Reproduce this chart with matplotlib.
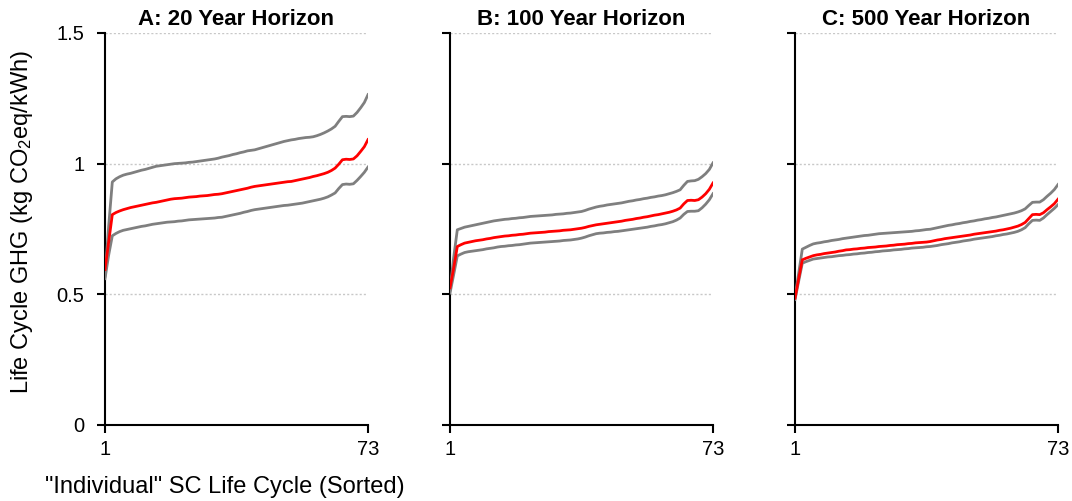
import numpy as np
import matplotlib
matplotlib.use("Agg")
import matplotlib.pyplot as plt

plt.rcParams['font.family'] = ['Liberation Sans', 'DejaVu Sans']
plt.rcParams['mathtext.default'] = 'regular'

# life cycle index (sorted), 73 individual SC life cycles
cycles = np.arange(1, 74)

titles = ["A: 20 Year Horizon", "B: 100 Year Horizon", "C: 500 Year Horizon"]

# panel A: 20 year horizon
a_upper = [0.57, 0.76, 0.93, 0.942, 0.950, 0.956, 0.960, 0.963, 0.967, 0.971,
           0.975, 0.978, 0.982, 0.986, 0.990, 0.992, 0.994, 0.996, 0.998, 1.000,
           1.001, 1.002, 1.003, 1.005, 1.006, 1.008, 1.010, 1.012, 1.014, 1.016,
           1.018, 1.021, 1.025, 1.028, 1.031, 1.035, 1.038, 1.042, 1.045, 1.049,
           1.051, 1.053, 1.057, 1.061, 1.065, 1.069, 1.073, 1.077, 1.081, 1.085,
           1.088, 1.091, 1.093, 1.096, 1.098, 1.100, 1.101, 1.103, 1.107, 1.112,
           1.118, 1.125, 1.133, 1.143, 1.162, 1.180, 1.181, 1.180, 1.182, 1.196,
           1.214, 1.234, 1.264]
a_mid = [0.595, 0.70, 0.805, 0.813, 0.819, 0.824, 0.828, 0.832, 0.835, 0.838,
         0.841, 0.844, 0.847, 0.850, 0.852, 0.855, 0.858, 0.861, 0.864, 0.866,
         0.867, 0.868, 0.870, 0.872, 0.873, 0.874, 0.876, 0.877, 0.878, 0.880,
         0.882, 0.883, 0.885, 0.888, 0.891, 0.894, 0.897, 0.900, 0.903, 0.906,
         0.910, 0.913, 0.915, 0.917, 0.919, 0.921, 0.923, 0.925, 0.927, 0.929,
         0.931, 0.932, 0.935, 0.938, 0.941, 0.944, 0.947, 0.951, 0.954, 0.958,
         0.962, 0.967, 0.974, 0.983, 0.998, 1.015, 1.017, 1.016, 1.018, 1.030,
         1.047, 1.065, 1.092]
a_lower = [0.560, 0.650, 0.724, 0.733, 0.740, 0.745, 0.748, 0.751, 0.754, 0.757,
           0.760, 0.762, 0.765, 0.768, 0.770, 0.772, 0.774, 0.776, 0.777, 0.778,
           0.780, 0.781, 0.783, 0.785, 0.786, 0.787, 0.788, 0.789, 0.790, 0.791,
           0.792, 0.794, 0.795, 0.798, 0.801, 0.804, 0.807, 0.810, 0.814, 0.817,
           0.821, 0.824, 0.826, 0.828, 0.830, 0.832, 0.834, 0.836, 0.838, 0.840,
           0.841, 0.843, 0.845, 0.847, 0.849, 0.852, 0.855, 0.858, 0.861, 0.864,
           0.868, 0.873, 0.880, 0.888, 0.905, 0.920, 0.922, 0.921, 0.923, 0.936,
           0.951, 0.967, 0.987]

# panel B: 100 year horizon
b_upper = [0.517, 0.640, 0.747, 0.752, 0.757, 0.760, 0.763, 0.766, 0.769, 0.772,
           0.775, 0.778, 0.781, 0.783, 0.785, 0.787, 0.788, 0.790, 0.791, 0.793,
           0.794, 0.796, 0.798, 0.799, 0.800, 0.801, 0.802, 0.803, 0.804, 0.806,
           0.807, 0.808, 0.810, 0.811, 0.813, 0.815, 0.817, 0.821, 0.826, 0.830,
           0.834, 0.837, 0.839, 0.842, 0.844, 0.846, 0.848, 0.850, 0.853, 0.856,
           0.858, 0.861, 0.863, 0.866, 0.868, 0.871, 0.873, 0.876, 0.878, 0.881,
           0.885, 0.889, 0.894, 0.900, 0.917, 0.932, 0.934, 0.935, 0.940, 0.950,
           0.962, 0.978, 1.003]
b_mid = [0.525, 0.600, 0.683, 0.690, 0.696, 0.699, 0.702, 0.705, 0.707, 0.709,
         0.712, 0.714, 0.717, 0.719, 0.721, 0.723, 0.724, 0.726, 0.727, 0.729,
         0.730, 0.732, 0.734, 0.735, 0.736, 0.737, 0.738, 0.740, 0.741, 0.742,
         0.743, 0.745, 0.746, 0.747, 0.749, 0.751, 0.753, 0.756, 0.760, 0.763,
         0.766, 0.768, 0.770, 0.772, 0.774, 0.776, 0.778, 0.780, 0.783, 0.785,
         0.787, 0.790, 0.792, 0.795, 0.797, 0.800, 0.803, 0.805, 0.808, 0.811,
         0.814, 0.818, 0.823, 0.830, 0.846, 0.859, 0.860, 0.859, 0.862, 0.872,
         0.885, 0.902, 0.926]
b_lower = [0.505, 0.575, 0.647, 0.654, 0.660, 0.663, 0.665, 0.667, 0.669, 0.671,
           0.674, 0.676, 0.678, 0.681, 0.683, 0.684, 0.686, 0.687, 0.689, 0.690,
           0.692, 0.694, 0.696, 0.697, 0.698, 0.699, 0.700, 0.701, 0.702, 0.703,
           0.704, 0.706, 0.707, 0.708, 0.710, 0.712, 0.715, 0.719, 0.724, 0.728,
           0.732, 0.734, 0.735, 0.737, 0.738, 0.740, 0.741, 0.743, 0.745, 0.747,
           0.749, 0.751, 0.753, 0.755, 0.757, 0.760, 0.762, 0.765, 0.767, 0.770,
           0.774, 0.778, 0.784, 0.792, 0.806, 0.817, 0.818, 0.818, 0.820, 0.831,
           0.845, 0.862, 0.885]

# panel C: 500 year horizon
c_upper = [0.490, 0.580, 0.673, 0.680, 0.687, 0.693, 0.696, 0.698, 0.701, 0.703,
           0.706, 0.708, 0.710, 0.713, 0.715, 0.717, 0.719, 0.721, 0.723, 0.725,
           0.726, 0.728, 0.730, 0.732, 0.733, 0.734, 0.735, 0.736, 0.737, 0.738,
           0.739, 0.740, 0.741, 0.743, 0.744, 0.746, 0.748, 0.749, 0.752, 0.755,
           0.758, 0.761, 0.764, 0.766, 0.769, 0.771, 0.774, 0.776, 0.779, 0.781,
           0.784, 0.786, 0.789, 0.791, 0.794, 0.796, 0.799, 0.802, 0.805, 0.808,
           0.811, 0.815, 0.820, 0.827, 0.840, 0.852, 0.853, 0.853, 0.862, 0.875,
           0.887, 0.901, 0.920]
c_mid = [0.485, 0.560, 0.632, 0.638, 0.643, 0.648, 0.651, 0.653, 0.656, 0.658,
         0.660, 0.662, 0.665, 0.667, 0.670, 0.671, 0.673, 0.674, 0.676, 0.677,
         0.679, 0.680, 0.681, 0.683, 0.684, 0.685, 0.687, 0.688, 0.690, 0.691,
         0.692, 0.694, 0.695, 0.697, 0.698, 0.699, 0.700, 0.702, 0.705, 0.708,
         0.710, 0.713, 0.715, 0.717, 0.719, 0.721, 0.723, 0.725, 0.727, 0.730,
         0.732, 0.734, 0.736, 0.738, 0.740, 0.742, 0.745, 0.747, 0.750, 0.753,
         0.757, 0.761, 0.767, 0.775, 0.790, 0.805, 0.806, 0.805, 0.812, 0.824,
         0.835, 0.847, 0.864]
c_lower = [0.480, 0.550, 0.619, 0.625, 0.630, 0.635, 0.637, 0.639, 0.641, 0.643,
           0.644, 0.646, 0.648, 0.649, 0.651, 0.652, 0.654, 0.655, 0.657, 0.658,
           0.660, 0.661, 0.663, 0.664, 0.666, 0.667, 0.668, 0.670, 0.671, 0.672,
           0.674, 0.675, 0.677, 0.678, 0.679, 0.680, 0.682, 0.683, 0.685, 0.687,
           0.690, 0.692, 0.694, 0.697, 0.699, 0.701, 0.704, 0.706, 0.708, 0.711,
           0.713, 0.715, 0.717, 0.719, 0.721, 0.724, 0.726, 0.729, 0.731, 0.734,
           0.737, 0.741, 0.747, 0.755, 0.770, 0.783, 0.784, 0.783, 0.792, 0.805,
           0.817, 0.829, 0.843]

uppers = [a_upper, b_upper, c_upper]
mids = [a_mid, b_mid, c_mid]
lowers = [a_lower, b_lower, c_lower]

fig = plt.figure(figsize=(10.72, 5.01), dpi=100)
lefts = [105, 450, 795]  # pixel position of each y-axis

for i in range(3):
    ax = fig.add_axes([lefts[i] / 1072, 76 / 501, 263 / 1072, 392 / 501])
    ax.plot(cycles, uppers[i], color='#7f7f7f', lw=2, zorder=3)
    ax.plot(cycles, lowers[i], color='#7f7f7f', lw=2, zorder=3)
    ax.plot(cycles, mids[i], color='#ff0000', lw=2, zorder=4)

    ax.set_xlim(1, 73)
    ax.set_ylim(0, 1.5)
    ax.set_xticks([1, 73])
    ax.set_yticks([0, 0.5, 1, 1.5])
    if i == 0:
        ax.set_yticklabels(['0', '0.5', '1', '1.5'])
    else:
        ax.set_yticklabels([])
    for y in [0.5, 1, 1.5]:
        ax.axhline(y, color='#c8c8c8', lw=1, ls=(0, (1.5, 1.5)), zorder=1)

    for s in ['top', 'right']:
        ax.spines[s].set_visible(False)
    for s in ['left', 'bottom']:
        ax.spines[s].set_linewidth(1.5)
    ax.tick_params(axis='both', direction='out', length=6, width=1.5,
                   labelsize=14.5)
    ax.tick_params(axis='y', pad=9)
    ax.tick_params(axis='x', pad=5)
    ax.set_title(titles[i], fontsize=16, fontweight='bold', pad=6)

fig.text(22 / 1072, (501 - 222) / 501, 'Life Cycle GHG (kg CO$_2$eq/kWh)',
         rotation=90, ha='center', va='center', fontsize=17)
fig.text(225 / 1072, 14 / 501, '"Individual" SC Life Cycle (Sorted)',
         ha='center', va='center', fontsize=17)

fig.savefig('out.png', dpi=100)
